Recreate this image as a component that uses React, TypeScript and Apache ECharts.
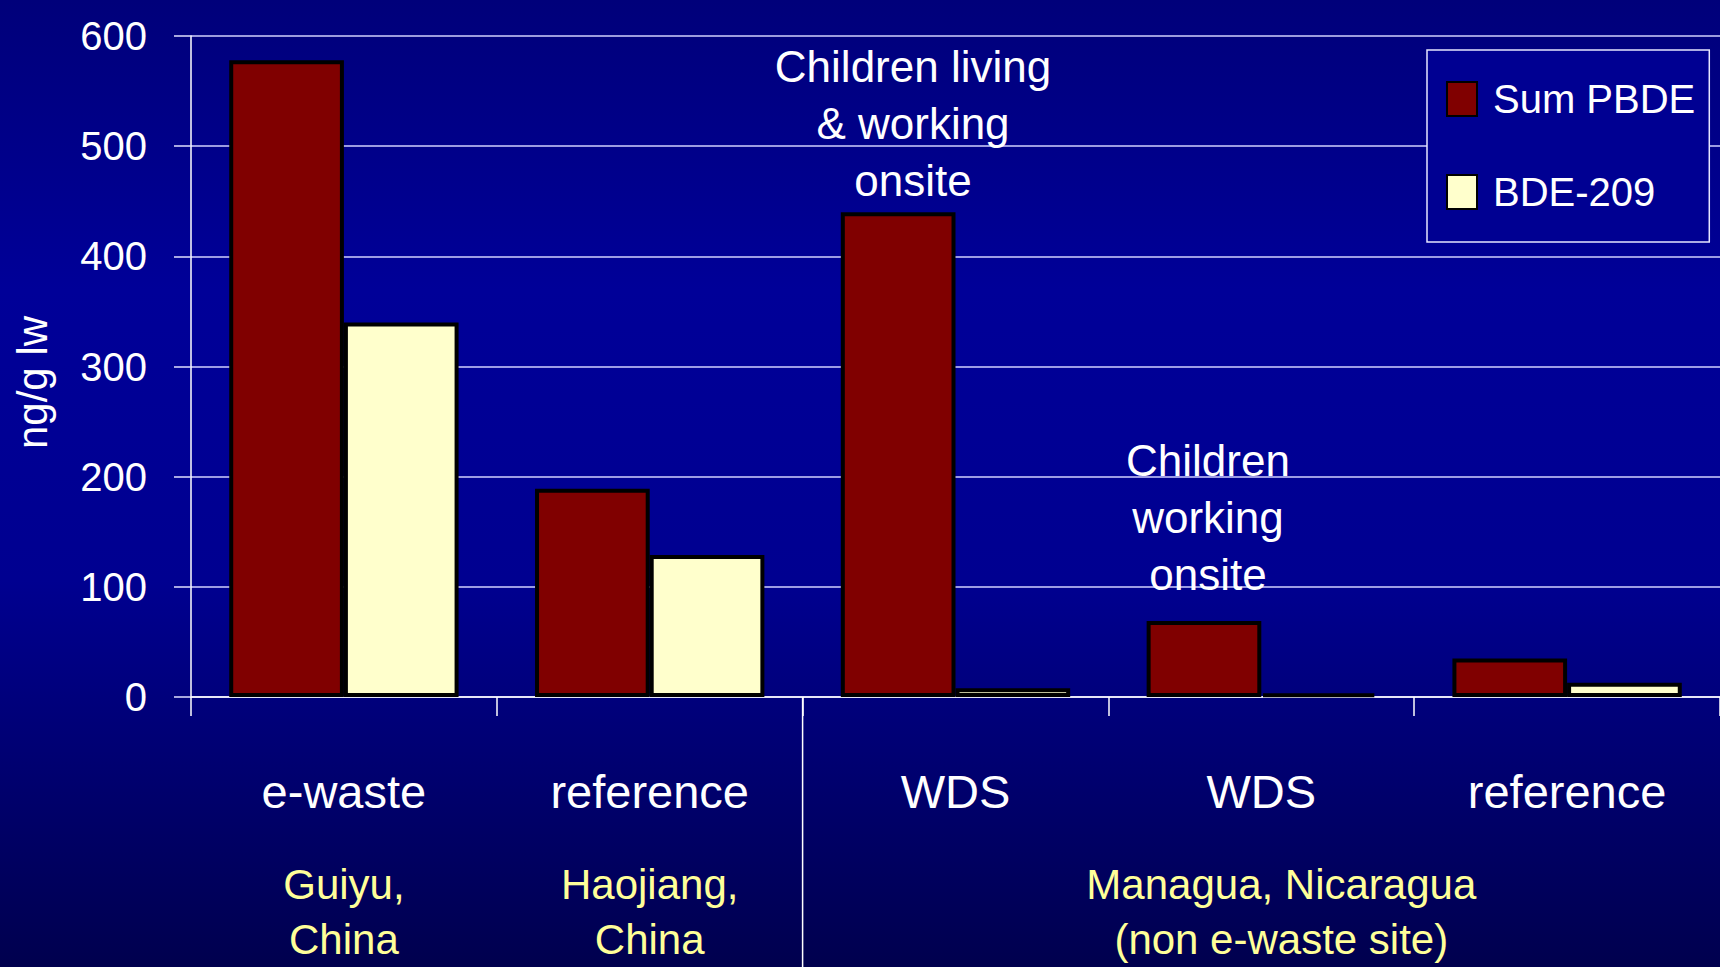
import React, { useEffect, useRef } from "react";
import * as echarts from "echarts";

const categories = ["e-waste", "reference", "WDS", "WDS", "reference"];
const groupLabels = ["Guiyu,\nChina", "Haojiang,\nChina", "", "Managua, Nicaragua\n(non e-waste site)", ""];
const sumPBDE = [578, 189, 440, 69, 35];
const bde209 = [340, 129, 8, 3, 13];
const yTicks = [0, 100, 200, 300, 400, 500, 600];

const W = 1720;
const H = 967;
const GRID_LEFT = 191;
const GRID_TOP = 36;
const GRID_BOTTOM = 267;
const FONT = "'Liberation Sans', Arial, sans-serif";

export default function App() {
  const ref = useRef<HTMLDivElement>(null);
  useEffect(() => {
    if (!ref.current) return;
    const chart = echarts.init(ref.current, null, { renderer: "svg", width: W, height: H });
    const catW = (W - GRID_LEFT) / categories.length;
    const dividerX = GRID_LEFT + 2 * catW;
    chart.setOption({
      animation: false,
      backgroundColor: {
        type: "linear", x: 0, y: 0, x2: 0, y2: 1,
        colorStops: [
          { offset: 0, color: "#00007a" },
          { offset: 0.3, color: "#000098" },
          { offset: 0.6, color: "#000090" },
          { offset: 1, color: "#00004e" },
        ],
      },
      grid: { left: GRID_LEFT, right: 0, top: GRID_TOP, bottom: GRID_BOTTOM, containLabel: false },
      legend: {
        orient: "vertical",
        left: 1427,
        top: 50,
        padding: [29, 14, 30, 19],
        itemWidth: 30,
        itemHeight: 34,
        itemGap: 53,
        borderColor: "#e6e6ff",
        borderWidth: 1.5,
        backgroundColor: "#000092",
        icon: "rect",
        textStyle: { color: "#ffffff", fontSize: 40, fontFamily: FONT, padding: [0, 0, 0, 11] },
        data: ["Sum PBDE", "BDE-209"],
      },
      xAxis: [
        {
          type: "category",
          data: categories,
          position: "bottom",
          axisLine: { show: true, lineStyle: { color: "#ffffff", width: 1.5 } },
          axisTick: { show: true, length: 19, lineStyle: { color: "#ffffff", width: 1.5 } },
          axisLabel: { color: "#ffffff", fontSize: 47, fontFamily: FONT, margin: 71, interval: 0 },
          splitLine: { show: false },
        },
        {
          type: "category",
          data: groupLabels.map((g, i) =>
            i === 3 ? { value: g, textStyle: { padding: [0, 0, 0, 40] } } : g
          ),
          position: "bottom",
          axisLine: { show: false },
          axisTick: { show: false },
          axisLabel: {
            color: "#ffff99", fontSize: 42, fontFamily: FONT, margin: 160, interval: 0,
            lineHeight: 55, verticalAlign: "top",
          },
        },
      ],
      yAxis: {
        type: "value",
        min: 0,
        max: 600,
        interval: 100,
        name: "ng/g lw",
        nameLocation: "middle",
        nameRotate: 90,
        nameGap: 138,
        nameTextStyle: { color: "#ffffff", fontSize: 42, fontFamily: FONT, padding: [0, 32, 0, 0] },
        axisLine: { show: true, lineStyle: { color: "#ffffff", width: 1.5 } },
        axisTick: { show: true, length: 17, lineStyle: { color: "#e0e0ff", width: 1.5 } },
        axisLabel: {
          color: "#ffffff", fontSize: 40, fontFamily: FONT, margin: 44, padding: [0, 0, 14, 0],
          formatter: (v: number) => (yTicks.includes(v) ? String(v) : ""),
        },
        splitLine: { show: true, lineStyle: { color: "#d0d0ff", width: 1.5 } },
      },
      series: [
        {
          name: "Sum PBDE",
          type: "bar",
          data: sumPBDE,
          barGap: "0%",
          barCategoryGap: "25%",
          itemStyle: { color: "#800000", borderColor: "#000000", borderWidth: 4 },
        },
        {
          name: "BDE-209",
          type: "bar",
          data: bde209,
          barGap: "0%",
          barCategoryGap: "25%",
          itemStyle: { color: "#ffffcc", borderColor: "#000000", borderWidth: 4 },
        },
      ],
      graphic: [
        {
          type: "line",
          shape: { x1: dividerX, y1: H - GRID_BOTTOM - 3, x2: dividerX, y2: H },
          style: { stroke: "#ffffff", lineWidth: 1.5 },
          z: 10,
        },
        {
          type: "text",
          x: 913,
          y: 38,
          style: {
            text: "Children living\n& working\nonsite",
            fill: "#ffffff",
            fontSize: 44,
            fontFamily: FONT,
            lineHeight: 57,
            align: "center",
            verticalAlign: "top",
          },
          z: 20,
        },
        {
          type: "text",
          x: 1208,
          y: 432,
          style: {
            text: "Children\nworking\nonsite",
            fill: "#ffffff",
            fontSize: 44,
            fontFamily: FONT,
            lineHeight: 57,
            align: "center",
            verticalAlign: "top",
          },
          z: 20,
        },
      ],
    });
    return () => chart.dispose();
  }, []);
  return <div ref={ref} style={{ position: "fixed", left: 0, top: 0, width: W, height: H }} />;
}
